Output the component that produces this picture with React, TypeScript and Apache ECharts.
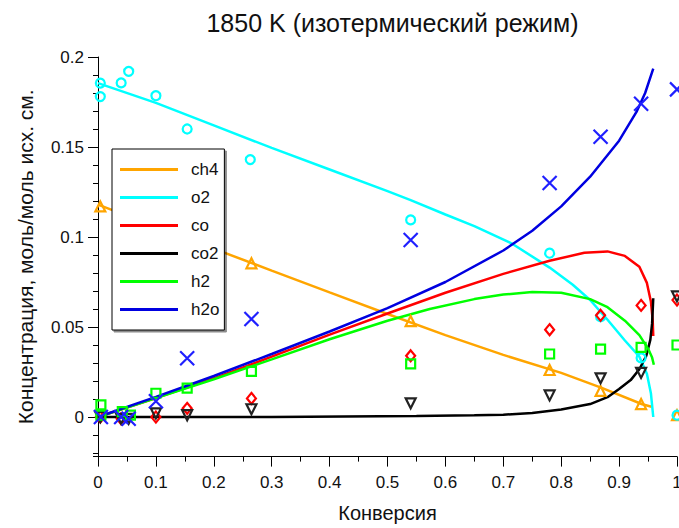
import React, { useEffect, useRef } from 'react';
import * as echarts from 'echarts';

const titleText = '1850 K (изотермический режим)';
const xAxisName = 'Конверсия';
const yAxisName = 'Концентрация, моль/моль исх. см.';

const seriesNames = ['ch4', 'o2', 'co', 'co2', 'h2', 'h2o'];
const lineColors = ['#ffa500', '#00ffff', '#ff0000', '#000000', '#00ff00', '#0000e0'];
const markerColors = ['#ffa500', '#00ffff', '#ff0000', '#222222', '#00ff00', '#2020ff'];

// model curves [conversion, concentration]
const ch4Curve = [[0, 0.118], [0.1, 0.1058], [0.2, 0.0935], [0.3, 0.0813], [0.4, 0.0692], [0.5, 0.0572], [0.6, 0.0455], [0.7, 0.0345], [0.8, 0.0245], [0.87, 0.0162], [0.94, 0.0071], [0.956, 0.0057]];
const o2Curve = [[0, 0.1855], [0.1, 0.1745], [0.2, 0.162], [0.3, 0.1495], [0.4, 0.1375], [0.5, 0.1255], [0.54, 0.1205], [0.6, 0.1125], [0.65, 0.106], [0.714, 0.0965], [0.78, 0.083], [0.82, 0.0735], [0.85, 0.065], [0.88, 0.054], [0.91, 0.0425], [0.935, 0.0335], [0.948, 0.024], [0.955, 0.013], [0.959, 0.0]];
const coCurve = [[0, 0], [0.1, 0.0105], [0.2, 0.0215], [0.3, 0.0335], [0.4, 0.0458], [0.5, 0.0575], [0.6, 0.069], [0.7, 0.0795], [0.78, 0.0868], [0.84, 0.0912], [0.88, 0.092], [0.91, 0.0895], [0.935, 0.0835], [0.948, 0.0745], [0.955, 0.064], [0.958, 0.054], [0.959, 0.045]];
const co2Curve = [[0, 0], [0.3, 0.0], [0.55, 0.0005], [0.65, 0.001], [0.7, 0.0013], [0.75, 0.0022], [0.8, 0.0042], [0.85, 0.0072], [0.88, 0.011], [0.9, 0.0155], [0.92, 0.0205], [0.935, 0.0265], [0.947, 0.034], [0.954, 0.043], [0.957, 0.052], [0.959, 0.066]];
const h2Curve = [[0, 0], [0.1, 0.0105], [0.2, 0.021], [0.3, 0.032], [0.4, 0.0432], [0.5, 0.0535], [0.573, 0.06], [0.65, 0.0655], [0.7, 0.068], [0.75, 0.0695], [0.8, 0.069], [0.85, 0.0655], [0.88, 0.061], [0.91, 0.0535], [0.935, 0.0455], [0.95, 0.038], [0.957, 0.033], [0.96, 0.029]];
const h2oCurve = [[0, 0], [0.1, 0.0112], [0.2, 0.0228], [0.3, 0.035], [0.4, 0.0475], [0.5, 0.0605], [0.6, 0.075], [0.7, 0.0925], [0.75, 0.1035], [0.8, 0.117], [0.85, 0.1335], [0.9, 0.1535], [0.93, 0.1695], [0.945, 0.18], [0.959, 0.1935]];

// experimental points [conversion, concentration]
const ch4Exp = [[0.004, 0.117], [0.04, 0.113], [0.053, 0.111], [0.1, 0.106], [0.154, 0.1], [0.265, 0.0854], [0.54, 0.0533], [0.78, 0.0261], [0.868, 0.0145], [0.938, 0.0072], [1.0, 0.001]];
const o2Exp = [[0.004, 0.1855], [0.004, 0.178], [0.04, 0.1856], [0.053, 0.192], [0.1, 0.1785], [0.154, 0.16], [0.263, 0.143], [0.54, 0.1095], [0.78, 0.091], [0.868, 0.0557], [0.938, 0.0328], [1.0, 0.001]];
const coExp = [[0.004, 0.0], [0.04, -0.001], [0.1, 0.0], [0.154, 0.0048], [0.265, 0.0103], [0.54, 0.034], [0.78, 0.0485], [0.868, 0.0565], [0.938, 0.062], [1.0, 0.065]];
const co2Exp = [[0.004, 0.0], [0.04, -0.001], [0.053, -0.001], [0.1, 0.002], [0.154, 0.001], [0.265, 0.0043], [0.54, 0.0076], [0.78, 0.012], [0.868, 0.0215], [0.938, 0.0245], [1.0, 0.067]];
const h2Exp = [[0.005, 0.0067], [0.005, 0.001], [0.042, 0.003], [0.056, 0.001], [0.1, 0.0132], [0.154, 0.016], [0.265, 0.0253], [0.54, 0.0295], [0.78, 0.035], [0.868, 0.0377], [0.938, 0.0387], [1.0, 0.04]];
const h2oExp = [[0.005, 0.0], [0.04, 0.0], [0.053, -0.001], [0.1, 0.0088], [0.154, 0.0326], [0.265, 0.0544], [0.54, 0.0983], [0.78, 0.13], [0.868, 0.1557], [0.938, 0.174], [1.0, 0.182]];

const curves = [ch4Curve, o2Curve, coCurve, co2Curve, h2Curve, h2oCurve];
const exps = [ch4Exp, o2Exp, coExp, co2Exp, h2Exp, h2oExp];

const FONT = "'Liberation Sans', Arial, sans-serif";
const markerShapes = ['triangle', 'circle', 'diamond', 'triangle', 'rect', 'path://M0,0L10,10M10,0L0,10'];
const markerSizes: any[] = [[10, 10], 9, [9, 11], [10, 10], 9, 14];
const markerRotates = [0, 0, 0, 180, 0, 0];

export default function App() {
  const ref = useRef<HTMLDivElement>(null);
  useEffect(() => {
    document.body.style.margin = '0';
    const chart = echarts.init(ref.current!, null, { renderer: 'svg' });
    const lineSeries = seriesNames.map((n, i) => ({
      name: n,
      type: 'line',
      data: curves[i],
      showSymbol: false,
      symbol: 'none',
      color: lineColors[i],
      lineStyle: { width: 2.5, color: lineColors[i] },
      z: 2,
    }));
    const scatterSeries = seriesNames.map((n, i) => ({
      name: n + ' exp',
      type: 'scatter',
      data: exps[i],
      symbol: markerShapes[i],
      symbolSize: markerSizes[i],
      symbolRotate: markerRotates[i],
      itemStyle: { color: 'rgba(0,0,0,0)', borderColor: markerColors[i], borderWidth: 2.2, opacity: 1 },
      clip: false,
      z: 3,
    }));
    chart.setOption({
      animation: false,
      title: {
        text: titleText,
        left: 387.5,
        top: 5,
        textAlign: 'center',
        textStyle: { fontSize: 25, fontWeight: 'normal', color: '#111', fontFamily: FONT },
      },
      grid: { left: 98, right: 2, top: 57, bottom: 71.4, containLabel: false, outerBoundsMode: 'none' },
      legend: {
        orient: 'vertical',
        left: 112,
        top: 149,
        data: seriesNames,
        icon: 'rect',
        itemWidth: 58,
        itemHeight: 3,
        itemGap: 11,
        padding: [12, 5, 12, 8],
        backgroundColor: '#fff',
        borderColor: '#000',
        borderWidth: 1,
        borderRadius: 0,
        shadowColor: 'rgba(0,0,0,0.45)',
        shadowOffsetX: 2,
        shadowOffsetY: 2,
        shadowBlur: 0,
        selectedMode: false,
        textStyle: { fontSize: 17, color: '#111', fontFamily: FONT, padding: [0, 0, 0, 8] },
      },
      xAxis: {
        type: 'value',
        min: 0,
        max: 1,
        interval: 0.1,
        axisLine: { show: true, onZero: false, lineStyle: { color: '#000', width: 1 } },
        axisTick: { show: true, length: 10, lineStyle: { color: '#000' } },
        minorTick: { show: true, splitNumber: 2, length: 5, lineStyle: { color: '#000' } },
        splitLine: { show: false },
        axisLabel: { fontSize: 17, color: '#111', fontFamily: FONT, margin: 17 },
        name: xAxisName,
        nameLocation: 'middle',
        nameGap: 46,
        nameTextStyle: { fontSize: 20, color: '#111', fontFamily: FONT },
      },
      yAxis: [
        {
          type: 'value',
          min: -0.022,
          max: 0.2,
          splitNumber: 4,
          position: 'left',
          axisLine: { show: true, onZero: false, lineStyle: { color: '#000', width: 1 } },
          axisTick: { show: true, length: 10, lineStyle: { color: '#000' } },
          splitLine: { show: false },
          axisLabel: { showMinLabel: false, fontSize: 17, color: '#111', fontFamily: FONT, margin: 14 },
          name: yAxisName,
          nameLocation: 'middle',
          nameGap: 62,
          nameTextStyle: { fontSize: 21, color: '#111', fontFamily: FONT },
        },
        {
          type: 'value',
          min: -0.022,
          max: 0.2,
          splitNumber: 22,
          position: 'left',
          axisLine: { show: false },
          axisTick: { show: true, length: 5, lineStyle: { color: '#000' } },
          splitLine: { show: false },
          axisLabel: { show: false },
        },
      ],
      series: [...lineSeries, ...scatterSeries],
    });
    return () => chart.dispose();
  }, []);
  return <div ref={ref} style={{ width: 679, height: 528 }} />;
}
